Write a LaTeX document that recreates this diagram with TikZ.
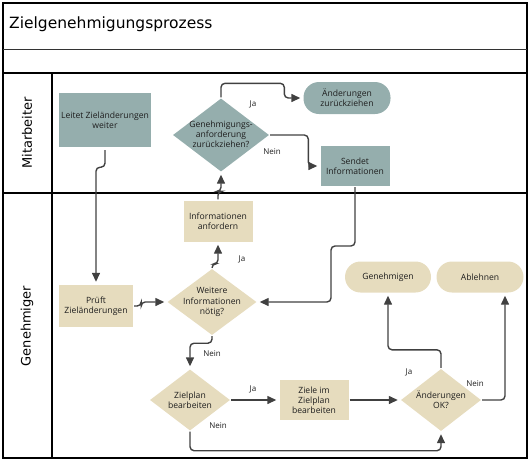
\documentclass[tikz,border=0pt]{standalone}
\usepackage{fontspec}
\setmainfont{Open Sans}
\newfontfamily\dejavu{DejaVu Sans}
\usetikzlibrary{shapes.geometric,arrows.meta,calc}
\definecolor{mitc}{HTML}{95AEAD}
\definecolor{genc}{HTML}{E6DCBE}
\definecolor{linec}{HTML}{404040}
\definecolor{txtc}{HTML}{1E1E1E}
\tikzset{
  nodetext/.style={font=\fontsize{8.6}{10.2}\selectfont, text=txtc, align=center, inner sep=0pt},
  procbox/.style={rectangle, draw=none, nodetext},
  termbox/.style={rectangle, rounded corners=15.5pt, draw=none, nodetext},
  diabox/.style={diamond, draw=none, inner sep=0pt},
  mitbox/.style={fill=mitc},
  genbox/.style={fill=genc},
  conn/.style={draw=linec, line width=1.4pt, rounded corners=4pt, shorten >=3pt, shorten <=1pt,
    -{Triangle[length=9pt,width=8pt]}},
  lbl/.style={font=\fontsize{8}{9}\selectfont, text=txtc, inner sep=0pt},
  lanelbl/.style={rotate=90, font=\dejavu\fontsize{13}{15}\selectfont, inner sep=0pt}
}
\begin{document}
\begin{tikzpicture}[x=1pt,y=-1pt]
\useasboundingbox (0,0) rectangle (531,461);
% frame
\draw[line width=1.5pt] (3,3) rectangle (527,458);
\draw[line width=1pt, draw=black!80] (3,49.5) -- (527,49.5);
\draw[line width=1.4pt] (3,73) -- (527,73);
\draw[line width=2pt] (3,193) -- (527,193);
\draw[line width=1.5pt] (52,73) -- (52,458);
\node[anchor=west, inner sep=0pt, font=\dejavu\fontsize{15.5}{18}\selectfont] (title) at (9,24) {Zielgenehmigungsprozess};
\node[lanelbl] (lane1) at (27,133) {Mitarbeiter};
\node[lanelbl] (lane2) at (27,326) {Genehmiger};
% Mitarbeiter lane
\node[procbox, mitbox, minimum width=92pt, minimum height=54pt] (leitet) at (105,120) {Leitet Zieländerungen\\weiter};
\node[diabox, mitbox, minimum width=96pt, minimum height=73pt] (genanf) at (221,135) {};
\node[nodetext] (genanft) at (221,134) {Genehmigungs-\\anforderung\\zurückziehen?};
\node[termbox, mitbox, minimum width=87pt, minimum height=32pt] (aend) at (347,98) {Änderungen\\zurückziehen};
\node[procbox, mitbox, minimum width=69pt, minimum height=40pt] (sendet) at (355,166) {Sendet\\Informationen};
% Genehmiger lane
\node[procbox, genbox, minimum width=69pt, minimum height=41pt] (infoanf) at (218,221) {Informationen\\anfordern};
\node[procbox, genbox, minimum width=74pt, minimum height=42pt] (pruft) at (96,306) {Prüft\\Zieländerungen};
\node[diabox, genbox, minimum width=89pt, minimum height=66pt] (weitere) at (212,302) {};
\node[nodetext] (weiteret) at (212,302) {Weitere\\Informationen\\nötig?};
\node[termbox, genbox, minimum width=86pt, minimum height=31pt] (genehm) at (388,277) {Genehmigen};
\node[termbox, genbox, minimum width=87pt, minimum height=31pt] (ablehnen) at (480,277) {Ablehnen};
\node[diabox, genbox, minimum width=80pt, minimum height=61pt] (zielplan) at (190,400) {};
\node[nodetext] (zielplant) at (190,400) {Zielplan\\bearbeiten};
\node[procbox, genbox, minimum width=69pt, minimum height=40pt] (ziele) at (314,400) {Ziele im\\Zielplan\\bearbeiten};
\node[diabox, genbox, minimum width=80pt, minimum height=62pt] (aok) at (441,400) {};
\node[nodetext] (aokt) at (441,400) {Änderungen\\OK?};
% connectors
\draw[conn, shorten <=3pt] (leitet.south) -- ++(0,20) -| (pruft.north);
\draw[conn] (pruft.east) -- ++(8,0) |- (weitere.west);
\draw[conn] (weitere.north) -- ++(0,-5) -| (infoanf.south);
\draw[conn] (infoanf.north) -- ++(0,-9) -| (genanf.south);
\draw[conn] (genanf.north) -- ++(0,-15) -| ($(aend.west)+(-19,0)$) -- (aend.west);
\draw[conn] (genanf.east) -| ($(sendet.west)+(-12,0)$) -- (sendet.west);
\coordinate (j7) at (331,246);
\draw[conn] (sendet.south) |- (j7) |- (weitere.east);
\draw[conn] (weitere.south) -- ++(0,8) -| (zielplan.north);
\draw[conn] (zielplan.east) -- (ziele.west);
\draw[conn] (ziele.east) -- (aok.west);
\draw[conn] (zielplan.south) -- ++(0,20) -| (aok.south);
\draw[conn] (aok.north) -- ++(0,-19) -| (genehm.south);
\draw[conn] (aok.east) -| ([xshift=25pt]ablehnen.south);
% labels
\node[lbl] (lja1) at (253,104) {Ja};
\node[lbl] (lnein1) at (272,152) {Nein};
\node[lbl] (lja2) at (242,259) {Ja};
\node[lbl] (lnein2) at (212,354) {Nein};
\node[lbl] (lja3) at (253,389) {Ja};
\node[lbl] (lnein3) at (218,426) {Nein};
\node[lbl] (lja4) at (409,372) {Ja};
\node[lbl] (lnein4) at (475,384) {Nein};
\end{tikzpicture}
\end{document}
